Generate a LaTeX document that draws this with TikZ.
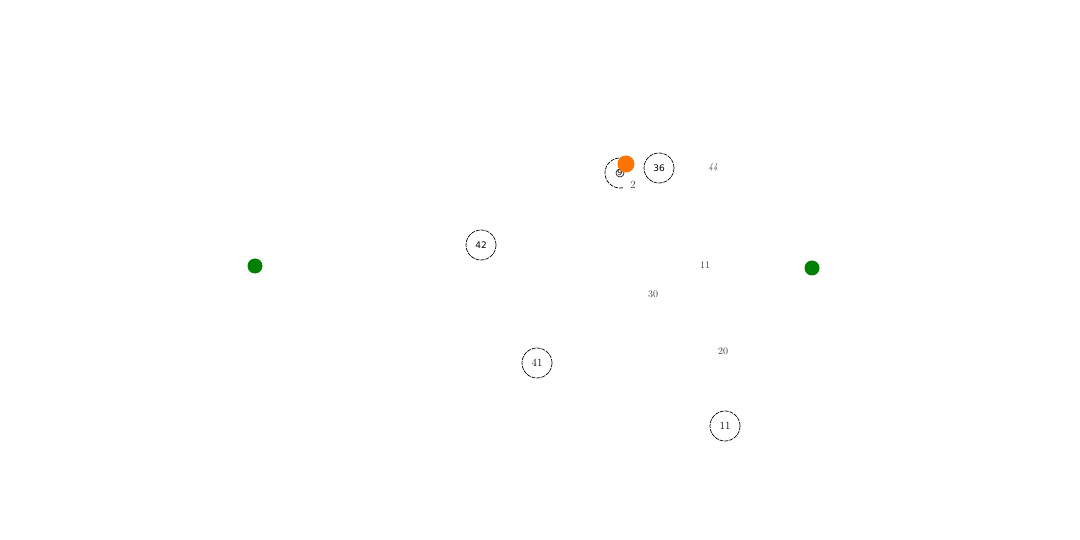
\documentclass[tikz,border=0pt]{standalone}
\usepackage{fontspec}
\newfontfamily\sansf{DejaVu Sans}
\begin{document}
\begin{tikzpicture}[x=1pt,y=-1pt,
  ring/.style={circle,draw=black,dash pattern=on 4pt off 1pt,line width=0.7pt,minimum size=30pt,inner sep=0pt},
  sanslabel/.style={font=\sansf\fontsize{9}{10}\selectfont},
  seriflabel/.style={font=\fontsize{11}{12}\selectfont},
  faint/.style={font=\fontsize{10}{11}\selectfont,text=black!75},
  greendot/.style={circle,fill=green!50!black,minimum size=15pt,inner sep=0pt},
  orangedot/.style={circle,fill=orange!90!red,minimum size=17pt,inner sep=0pt}]
\useasboundingbox[fill=white] (0,0) rectangle (1080,540);
\node[ring,sanslabel] (n42) at (481,245) {42};
\node[ring,sanslabel] (n36) at (659,168) {36};
\node[ring,seriflabel] (n41) at (537,363) {41};
\node[ring,seriflabel] (n11b) at (725,426) {11};
\node[faint] (t11) at (705,265) {11};
\node[faint] (t30) at (653,294) {30};
\node[faint] (t20) at (723,351) {20};
\node[faint,font=\itshape\fontsize{9}{10}\selectfont] (t44) at (713,167) {44};
\node[greendot] (g1) at (255,266) {};
\node[greendot] (g2) at (812,268) {};
\coordinate (c9) at (620,173);
\draw[dash pattern=on 4pt off 1pt,line width=0.7pt] ([shift={(-55:15)}]c9) arc[start angle=-55,end angle=-282,radius=15];
\draw[line width=0.6pt] (c9) circle[radius=4];
\node[font=\sansf\fontsize{8}{9}\selectfont] (t9) at (c9) {9};
\node[orangedot] (od) at (626,164) {};
\node[faint,font=\fontsize{11}{12}\selectfont] (t2) at (633,185) {2};
\end{tikzpicture}
\end{document}
